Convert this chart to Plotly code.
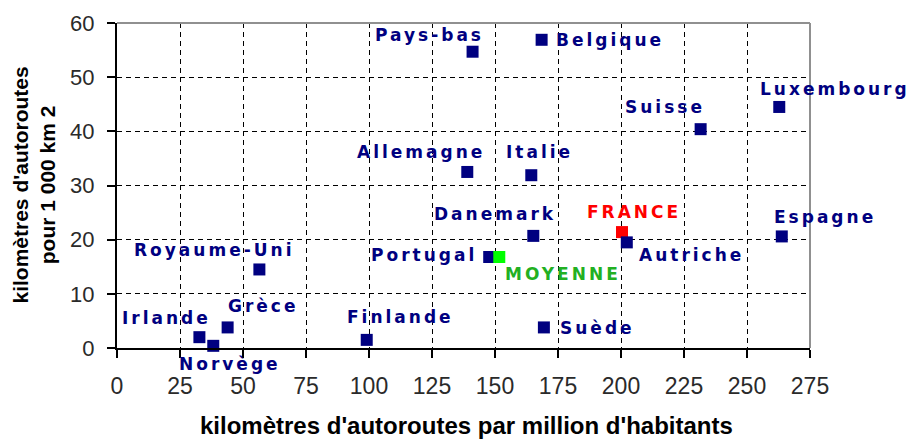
import plotly.graph_objects as go

# ---- data ----
countries = ["Pays-bas", "Belgique", "Luxembourg", "Suisse", "Allemagne", "Italie",
             "Danemark", "Autriche", "Espagne", "Portugal", "Suède",
             "Royaume-Uni", "Irlande", "Norvège", "Grèce", "Finlande"]
km_per_million = [141.1, 168.5, 262.8, 231.6, 139.0, 164.4,
                  165.2, 202.3, 263.8, 147.7, 169.4,
                  56.5, 32.7, 38.2, 43.9, 99.1]
km_per_1000km2 = [54.7, 56.9, 44.5, 40.4, 32.5, 31.9,
                  20.7, 19.5, 20.6, 16.8, 3.8,
                  14.5, 2.0, 0.4, 3.8, 1.5]

france_label = "FRANCE"
france_x = [200.4]
france_y = [21.4]

moyenne_label = "MOYENNE"
moyenne_x = [151.7]
moyenne_y = [16.8]

x_ticks = [0, 25, 50, 75, 100, 125, 150, 175, 200, 225, 250, 275]
y_ticks = [0, 10, 20, 30, 40, 50, 60]

x_title = "kilomètres d'autoroutes par million d'habitants"
y_title = "kilomètres d'autoroutes<br>pour 1 000 km 2"

# ---- label offsets (pixels, relative to marker) ----
label_offsets = {
    "Pays-bas": (-45, 17), "Belgique": (67, 0), "Luxembourg": (54, 18),
    "Suisse": (-37, 22), "Allemagne": (-48, 20), "Italie": (7, 23),
    "Danemark": (-40, 22), "Autriche": (63, -13), "Espagne": (42, 19),
    "Portugal": (-67, 2), "Suède": (52, -1), "Royaume-Uni": (-47, 19),
    "Irlande": (-34, 19), "Norvège": (15, -18), "Grèce": (34, 21),
    "Finlande": (32, 23), "FRANCE": (10, 20), "MOYENNE": (62, -17),
}

NAVY = "#000080"
LABEL_FONT = "DejaVu Sans, Verdana, sans-serif"
SANS = "Liberation Sans, Arial, sans-serif"

fig = go.Figure()
fig.add_trace(go.Scatter(x=france_x, y=france_y, mode="markers",
                         marker=dict(symbol="square", size=12, color="#ff0000", line=dict(width=0)),
                         showlegend=False, cliponaxis=False, hoverinfo="skip"))
fig.add_trace(go.Scatter(x=km_per_million, y=km_per_1000km2, mode="markers",
                         marker=dict(symbol="square", size=12, color=NAVY, line=dict(width=0)),
                         showlegend=False, cliponaxis=False, hoverinfo="skip"))
fig.add_trace(go.Scatter(x=moyenne_x, y=moyenne_y, mode="markers",
                         marker=dict(symbol="square", size=12, color="#00ff00", line=dict(width=0)),
                         showlegend=False, cliponaxis=False, hoverinfo="skip"))

def label(text, x, y, color):
    dx, dy = label_offsets[text]
    fig.add_annotation(x=x, y=y, xref="x", yref="y",
                       text=f'<span style="letter-spacing:3px">{text}</span>',
                       showarrow=False, xanchor="center", yanchor="middle",
                       xshift=dx + 1.5, yshift=dy,
                       font=dict(family=LABEL_FONT, size=17, color=color, weight="bold"))

for name, xv, yv in zip(countries, km_per_million, km_per_1000km2):
    label(name, xv, yv, NAVY)
label(france_label, france_x[0], france_y[0], "#ff0000")
label(moyenne_label, moyenne_x[0], moyenne_y[0], "#22b022")

# axis titles
fig.add_annotation(text=x_title, xref="paper", yref="paper", x=0.505, y=0,
                   yanchor="middle", yshift=-77, showarrow=False,
                   font=dict(family=SANS, size=24, color="#000000", weight="bold"))
fig.add_annotation(text=y_title, xref="paper", yref="paper", x=0, y=0.5,
                   xanchor="center", yanchor="middle", xshift=-84, showarrow=False,
                   textangle=-90,
                   font=dict(family=SANS, size=21, color="#000000", weight="bold"))

# top and right grey borders
fig.add_shape(type="line", xref="paper", yref="paper", x0=0, x1=1, y0=1, y1=1,
              line=dict(color="#909090", width=2))
fig.add_shape(type="line", xref="paper", yref="paper", x0=1, x1=1, y0=0, y1=1,
              line=dict(color="#909090", width=2))

fig.update_xaxes(range=[0, 275], tickmode="array", tickvals=x_ticks,
                 ticktext=[str(v) for v in x_ticks],
                 showline=True, linecolor="#000000", linewidth=2,
                 ticks="outside", ticklen=8, tickwidth=2, tickcolor="#000000",
                 showgrid=True, gridcolor="#000000", gridwidth=1, griddash="5px,4px",
                 zeroline=False, ticklabelstandoff=8,
                 tickfont=dict(family=SANS, size=23, color="#2a2a2a"))
fig.update_yaxes(range=[0, 60], tickmode="array", tickvals=y_ticks,
                 ticktext=[str(v) for v in y_ticks],
                 showline=True, linecolor="#000000", linewidth=2,
                 ticks="outside", ticklen=8, tickwidth=2, tickcolor="#000000",
                 showgrid=True, gridcolor="#000000", gridwidth=1, griddash="5px,4px",
                 zeroline=False, ticklabelstandoff=8,
                 tickfont=dict(family=SANS, size=22, color="#2a2a2a"))

fig.update_layout(width=911, height=439,
                  margin=dict(l=117, r=101, t=23, b=91),
                  plot_bgcolor="#ffffff", paper_bgcolor="#ffffff",
                  hovermode=False)

fig.write_html("out.html", config={"displayModeBar": False, "staticPlot": True},
               post_script="document.body.style.margin='0';document.body.style.overflow='hidden';")
